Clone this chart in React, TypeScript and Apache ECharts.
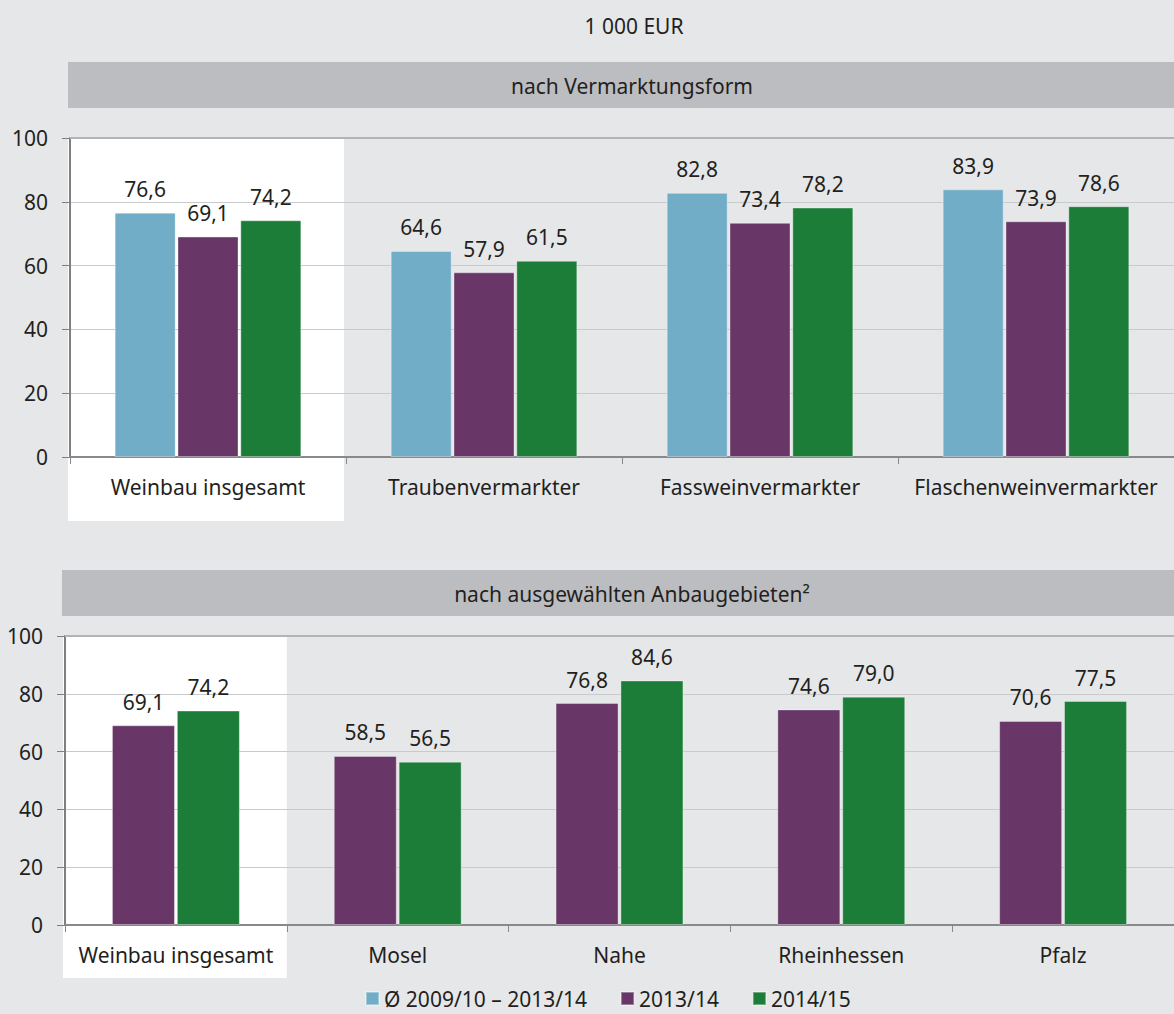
import React, { useEffect, useRef } from "react";
import * as echarts from "echarts";

// Betriebseinkommen je Arbeitskraft, 1 000 EUR
const marketingForms = ["Weinbau insgesamt", "Traubenvermarkter", "Fassweinvermarkter", "Flaschenweinvermarkter"];
const marketingAvg = [76.6, 64.6, 82.8, 83.9];
const marketing1314 = [69.1, 57.9, 73.4, 73.9];
const marketing1415 = [74.2, 61.5, 78.2, 78.6];

const regions = ["Weinbau insgesamt", "Mosel", "Nahe", "Rheinhessen", "Pfalz"];
const regions1314 = [69.1, 58.5, 76.8, 74.6, 70.6];
const regions1415 = [74.2, 56.5, 84.6, 79.0, 77.5];

const seriesNames = ["Ø 2009/10 – 2013/14", "2013/14", "2014/15"];
const unitLabel = "1 000 EUR";
const headerTop = "nach Vermarktungsform";
const headerBottom = "nach ausgewählten Anbaugebieten²";

const FONT = "Noto Sans";
const FS = 21;
const TEXT = "#231f20";
const BG = "#e6e7e9";
const HEADER = "#bcbdc0";
const COLORS = ["#72adc7", "#683667", "#1b7d38"];

const fmt = (v: number) => v.toFixed(1).replace(".", ",");

const barLabel = {
  show: true,
  position: "top",
  distance: 13,
  color: TEXT,
  fontSize: FS,
  fontFamily: FONT,
  formatter: (p: any) => fmt(p.value),
};

function bar(name: string, data: number[], color: string, idx: number, width: number, extra: any = {}) {
  return {
    type: "bar",
    name,
    data,
    xAxisIndex: idx,
    yAxisIndex: idx,
    barWidth: width,
    barGap: "3%",
    itemStyle: { color, borderColor: "rgba(255,255,255,0.35)", borderWidth: 1 },
    label: barLabel,
    z: 3,
    ...extra,
  };
}

const topLine = {
  silent: true,
  symbol: "none",
  label: { show: false },
  lineStyle: { color: "#b3b4b6", width: 2, type: "solid" },
  data: [{ yAxis: 100 }],
};

function yAxis(gridIndex: number) {
  return {
    type: "value",
    gridIndex,
    min: 0,
    max: 100,
    interval: 20,
    axisLine: { show: true, lineStyle: { color: "#7f7f81", width: 2 } },
    axisTick: { show: true, length: 8, lineStyle: { color: "#7f7f81", width: 1 } },
    axisLabel: { color: TEXT, fontSize: FS, fontFamily: FONT, margin: 22 },
    splitLine: { show: true, lineStyle: { color: "#c9cacc", width: 1 } },
  };
}

function xAxis(gridIndex: number, data: string[]) {
  return {
    type: "category",
    gridIndex,
    data,
    axisLine: { show: true, lineStyle: { color: "#88898b", width: 2 } },
    axisTick: { show: true, length: 7, lineStyle: { color: "#88898b", width: 1 } },
    axisLabel: { color: TEXT, fontSize: FS, fontFamily: FONT, margin: 19, interval: 0 },
    splitLine: { show: false },
  };
}

function headerText(text: string, x: number, y: number) {
  return {
    type: "text",
    x,
    y,
    style: {
      text,
      fill: TEXT,
      font: `${FS}px "${FONT}"`,
      textAlign: "center",
      textVerticalAlign: "middle",
    },
  };
}

export default function App() {
  const ref = useRef<HTMLDivElement>(null);

  useEffect(() => {
    if (!ref.current) return;
    const chart = echarts.init(ref.current, null, { renderer: "svg" });

    chart.setOption({
      animation: false,
      backgroundColor: BG,
      textStyle: { fontFamily: FONT, color: TEXT },
      grid: [
        { left: 70, top: 138, width: 1112, height: 319 },
        { left: 65, top: 636, width: 1120, height: 289 },
      ],
      xAxis: [xAxis(0, marketingForms), xAxis(1, regions)],
      yAxis: [yAxis(0), yAxis(1)],
      legend: {
        data: seriesNames,
        left: 365,
        top: 988,
        padding: 0,
        icon: "rect",
        itemWidth: 13,
        itemHeight: 13,
        itemGap: 33,
        textStyle: { color: TEXT, fontSize: FS, fontFamily: FONT },
      },
      series: [
        bar(seriesNames[0], marketingAvg, COLORS[0], 0, 61, { markLine: topLine }),
        bar(seriesNames[1], marketing1314, COLORS[1], 0, 61),
        bar(seriesNames[2], marketing1415, COLORS[2], 0, 61),
        bar(seriesNames[1], regions1314, COLORS[1], 1, 63, { markLine: topLine }),
        bar(seriesNames[2], regions1415, COLORS[2], 1, 63),
      ],
    });

    // White panel behind the "Weinbau insgesamt" group of each chart, sized from the axes
    const panel = (gi: number, cats: string[], padBottom: number, shrinkRight: number) => {
      const c0 = chart.convertToPixel({ xAxisIndex: gi }, cats[0]) as number;
      const c1 = chart.convertToPixel({ xAxisIndex: gi }, cats[1]) as number;
      const band = c1 - c0;
      const yTop = chart.convertToPixel({ yAxisIndex: gi }, 100) as number;
      const yBase = chart.convertToPixel({ yAxisIndex: gi }, 0) as number;
      const x = c0 - band / 2 - 2;
      return {
        type: "rect",
        z: -10,
        silent: true,
        shape: { x, y: yTop + 1, width: band - shrinkRight + 2, height: yBase - yTop - 1 + padBottom },
        style: { fill: "#ffffff" },
      };
    };

    chart.setOption({
      graphic: [
        panel(0, marketingForms, 64, 2),
        panel(1, regions, 53, 0),
        headerText(unitLabel, 634, 26),
        { type: "rect", z: -5, shape: { x: 68, y: 62, width: 1106, height: 46 }, style: { fill: HEADER } },
        headerText(headerTop, 632, 86),
        { type: "rect", z: -5, shape: { x: 62, y: 570, width: 1112, height: 46 }, style: { fill: HEADER } },
        headerText(headerBottom, 632, 594),
      ],
    });

    return () => chart.dispose();
  }, []);

  return (
    <div
      ref={ref}
      style={{ position: "absolute", left: 0, top: 0, width: 1174, height: 1014 }}
    />
  );
}
